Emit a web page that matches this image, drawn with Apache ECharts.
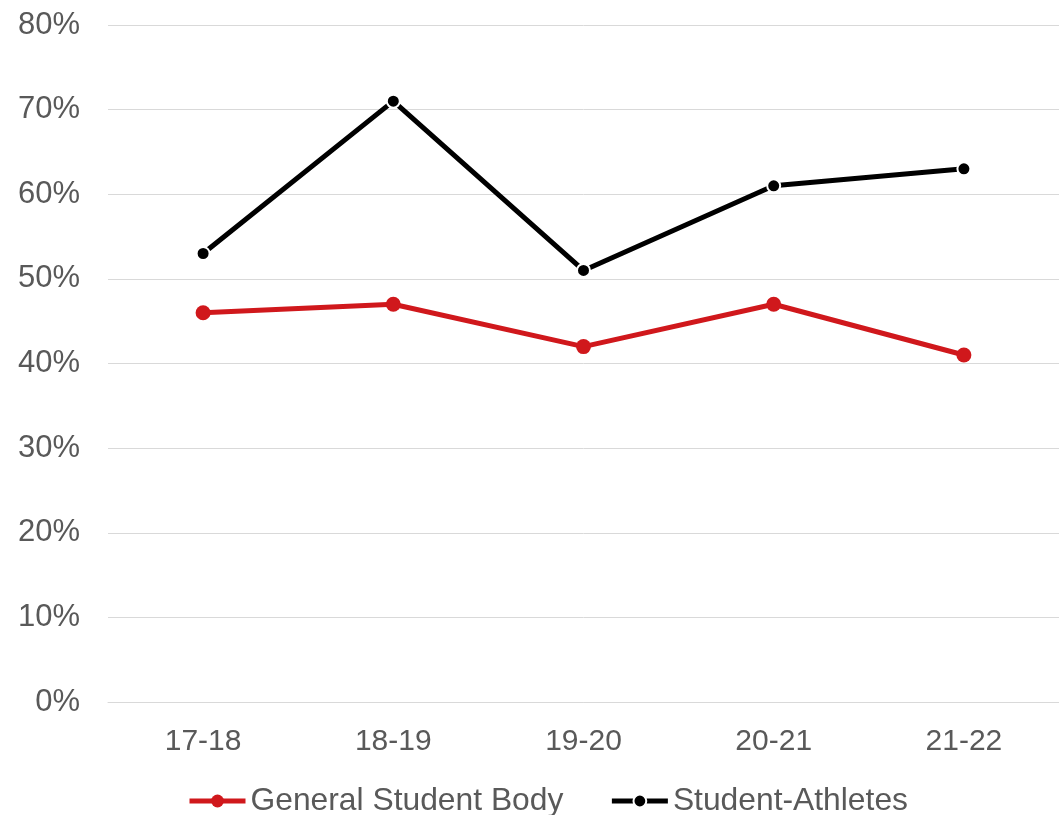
<!DOCTYPE html>
<html><head><meta charset="utf-8">
<script src="https://cdn.jsdelivr.net/npm/echarts@6/dist/echarts.min.js"></script>
<style>html,body{margin:0;padding:0;background:#fff}#c{width:1059px;height:815px}</style>
</head><body><div id="c"></div>
<script>
const categories = ['17-18','18-19','19-20','20-21','21-22'];
const generalStudentBody = [46,47,42,47,41];
const studentAthletes = [53,71,51,61,63];
const yTicks = [0,10,20,30,40,50,60,70,80];

const chart = echarts.init(document.getElementById('c'));
const font = 'Liberation Sans, Arial, sans-serif';
chart.setOption({
  animation:false,
  grid:{left:108,right:0,top:25,bottom:113,containLabel:false},
  legend:{
    bottom:-7,left:182,itemWidth:56,itemHeight:16,itemGap:46,
    lineStyle:{width:5},
    textStyle:{fontFamily:font,fontSize:31.8,color:'#595959',padding:[0,0,0,0]},
    data:['General Student Body','Student-Athletes']
  },
  xAxis:{type:'category',data:categories,boundaryGap:true,
    axisLine:{show:true,lineStyle:{color:'#d9d9d9',width:1}},
    axisTick:{show:false},
    axisLabel:{fontFamily:font,fontSize:30,color:'#595959',margin:25}},
  yAxis:{type:'value',min:0,max:80,interval:10,
    axisLabel:{fontFamily:font,fontSize:31,color:'#595959',margin:28,
      formatter:v=>yTicks.includes(v)?v+'%':''},
    splitLine:{lineStyle:{color:'#d9d9d9',width:1}},
    axisLine:{show:false},axisTick:{show:false}},
  series:[
    {name:'General Student Body',type:'line',data:generalStudentBody,
     symbol:'circle',symbolSize:15,
     lineStyle:{color:'#d0181c',width:5},
     itemStyle:{color:'#d0181c',borderColor:'#d0181c',borderWidth:0}},
    {name:'Student-Athletes',type:'line',data:studentAthletes,
     symbol:'circle',symbolSize:13,
     lineStyle:{color:'#000',width:5},
     itemStyle:{color:'#000',borderColor:'#fff',borderWidth:2}}
  ]
});
</script></body></html>
